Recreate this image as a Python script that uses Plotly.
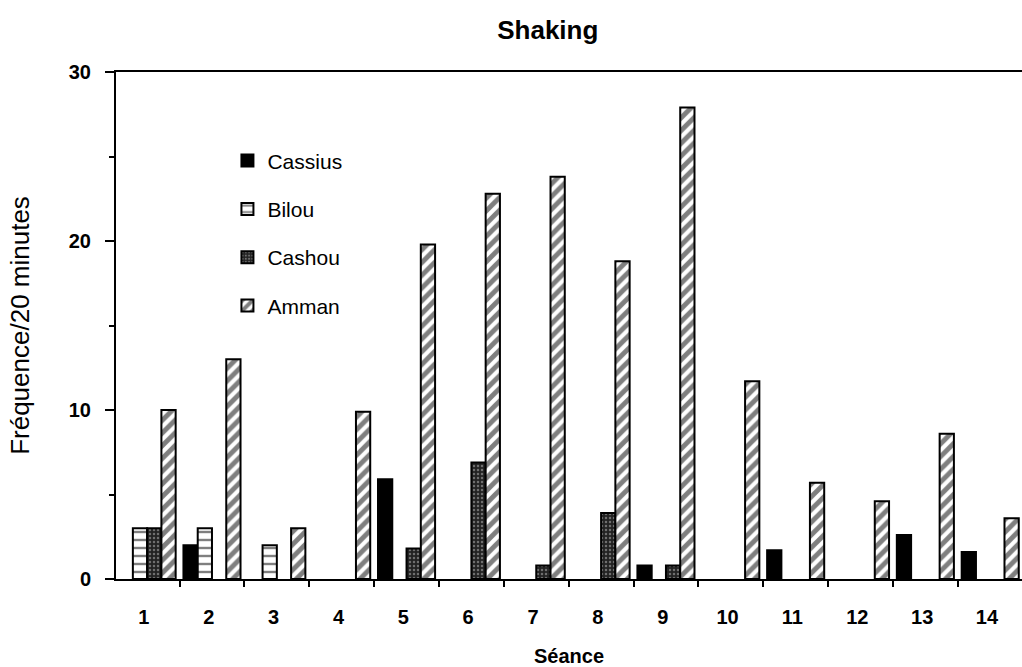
import plotly.graph_objects as go

seances = list(range(1, 15))
seance_labels = [str(s) for s in seances]
cassius = [0, 2, 0, 0, 5.9, 0, 0, 0, 0.8, 0, 1.7, 0, 2.6, 1.6]
bilou = [3, 3, 2, 0, 0, 0, 0, 0, 0, 0, 0, 0, 0, 0]
cashou = [3, 0, 0, 0, 1.8, 6.9, 0.8, 3.9, 0.8, 0, 0, 0, 0, 0]
amman = [10, 13, 3, 9.9, 19.8, 22.8, 23.8, 18.8, 27.9, 11.7, 5.7, 4.6, 8.6, 3.6]

series = [
    ("Cassius", cassius, dict(color="black")),
    ("Bilou", bilou, dict(color="white", pattern=dict(shape="-", fgcolor="black", bgcolor="white", size=8, solidity=0.3))),
    ("Cashou", cashou, dict(color="#222222", pattern=dict(shape=".", fgcolor="#bbbbbb", bgcolor="#222222", size=4, solidity=0.3))),
    ("Amman", amman, dict(color="white", pattern=dict(shape="/", fgcolor="black", bgcolor="white", size=9, solidity=0.55))),
]

fig = go.Figure()
for name, vals, mk in series:
    mk = dict(mk)
    mk["line"] = dict(color="black", width=2)
    fig.add_trace(go.Bar(x=seances, y=[v if v else None for v in vals], name=name,
                         marker=mk, legendgroup=name))

font_fam = "Liberation Sans, Arial, sans-serif"
fig.update_layout(
    width=1022, height=667,
    margin=dict(l=116, r=0, t=72, b=88),
    paper_bgcolor="white", plot_bgcolor="white",
    barmode="group", bargap=0.12, bargroupgap=0,
    title=dict(text="<b>Shaking</b>", xref="container", x=0.536, xanchor="center",
               yref="container", y=0.955, yanchor="middle",
               font=dict(family=font_fam, size=26, color="black")),
    legend=dict(x=0.123, y=0.865, xanchor="left", yanchor="top", bgcolor="rgba(0,0,0,0)",
                font=dict(family=font_fam, size=21, color="black"), tracegroupgap=18,
                itemsizing="constant"),
    showlegend=True,
)
fig.update_xaxes(
    range=[0.52, 14.49], tickvals=[s - 0.05 for s in seances], ticktext=[f"<b>{t}</b>" for t in seance_labels],
    ticks="", ticklabelstandoff=19, automargin=False,
    tickfont=dict(family=font_fam, size=20, color="black"),
    showline=True, linecolor="black", linewidth=2, mirror=True,
    showgrid=False, zeroline=False,
    minor=dict(tick0=0.5, dtick=1, ticks="outside", ticklen=6, tickcolor="black", tickwidth=2, showgrid=False),
    title=dict(text="<b>Séance</b>", font=dict(family=font_fam, size=20, color="black"), standoff=23),
)
fig.update_yaxes(
    range=[0, 30], tickvals=[0, 10, 20, 30], ticktext=["<b>0</b>", "<b>10</b>", "<b>20</b>", "<b>30</b>"],
    ticks="outside", ticklen=9, tickwidth=2, tickcolor="black", ticklabelstandoff=10, automargin=False,
    tickfont=dict(family=font_fam, size=20, color="black"),
    showline=True, linecolor="black", linewidth=2, mirror=False,
    showgrid=False, zeroline=False,
    minor=dict(tickvals=[5, 15, 25], ticks="outside", ticklen=5, tickcolor="black", tickwidth=2, showgrid=False),
    title=dict(text="Fréquence/20 minutes", font=dict(family=font_fam, size=26, color="black"), standoff=32),
)

fig.write_html("out.html", config={"displayModeBar": False},
               post_script="document.body.style.margin='0px';")
